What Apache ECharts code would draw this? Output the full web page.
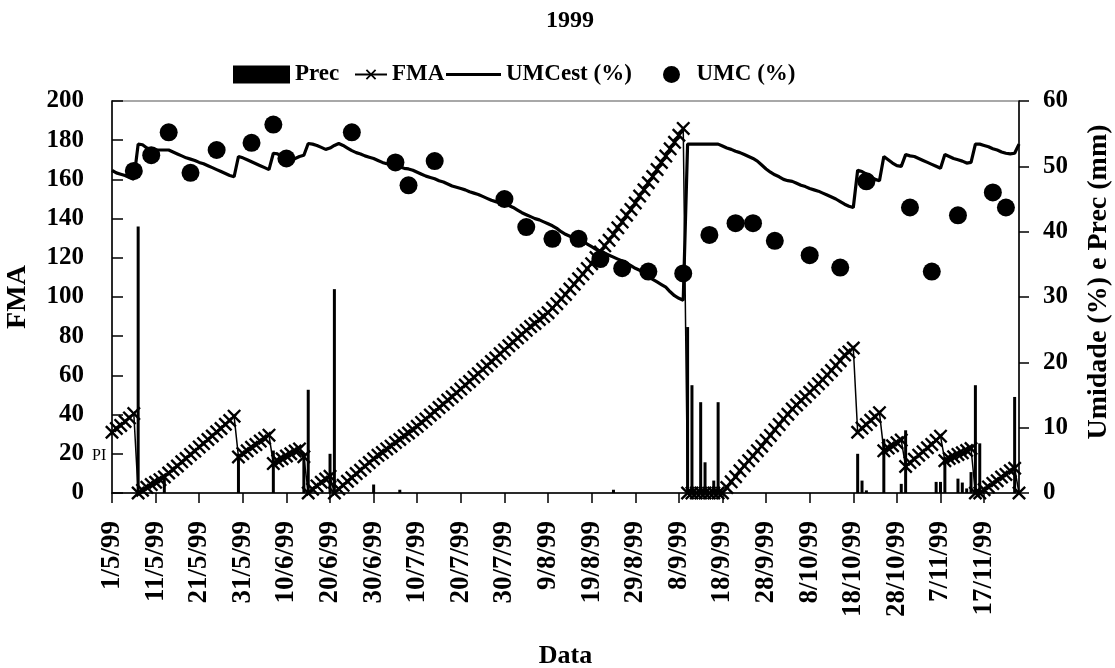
<!DOCTYPE html>
<html>
<head>
<meta charset="utf-8">
<title>1999 - FMA, UMC e precipitação</title>
<script src="https://cdn.jsdelivr.net/npm/echarts@6/dist/echarts.min.js"></script>
<style>
  html, body { margin: 0; padding: 0; background: #fff; }
  #chart { width: 1115px; height: 668px; }
</style>
</head>
<body>
<div id="chart"></div>
<script>
// Daily categories, 1/5/99 to 25/11/99 (month, number of days shown)
const monthSpans = [[5, 31], [6, 30], [7, 31], [8, 31], [9, 30], [10, 31], [11, 25]];
const dates = [];
monthSpans.forEach(([m, n]) => { for (let d = 1; d <= n; d++) dates.push(d + '/' + m + '/99'); });

// FMA index, one value per day (left axis)
const fmaValues = [
  31.0, 32.9, 34.5, 36.5, 38.3, 40.5, 0, 1.4, 2.9, 4.3,
  5.5, 6.8, 8.2, 10.2, 12.0, 13.8, 15.9, 17.6, 19.7, 21.4,
  23.5, 25.2, 27.3, 29.1, 31.2, 32.9, 35.1, 37.0, 39.2, 18.4,
  20.1, 21.5, 23.3, 24.7, 26.5, 27.9, 29.5, 15.0, 16.4, 17.5,
  18.9, 20.0, 21.4, 22.5, 18.5, 0, 1.9, 3.6, 5.5, 7.1,
  8.5, 0, 2.1, 3.9, 6.0, 7.8, 9.9, 11.6, 13.7, 15.5,
  17.5, 19.2, 20.6, 22.5, 23.9, 25.8, 27.3, 29.2, 30.6, 32.4,
  34.0, 36.0, 37.7, 39.8, 41.5, 43.6, 45.3, 47.4, 49.1, 51.2,
  53.0, 55.1, 56.9, 59.1, 60.9, 63.1, 64.9, 67.1, 68.9, 71.1,
  73.0, 75.1, 76.9, 79.1, 80.9, 83.0, 84.9, 86.5, 88.5, 90.1,
  92.0, 94.4, 96.6, 99.1, 101.3, 104.1, 106.5, 109.3, 111.7, 114.5,
  117.0, 120.1, 122.9, 126.1, 128.9, 132.0, 135.3, 138.3, 141.7, 144.7,
  148.0, 151.5, 154.7, 158.3, 161.5, 165.0, 168.6, 171.9, 175.6, 178.9,
  182.5, 186.0, 0, 0, 0, 0, 0, 0, 0, 0,
  0, 2.8, 5.7, 8.3, 11.3, 13.9, 16.5, 18.9, 21.6, 23.9,
  26.9, 29.4, 32.3, 34.9, 37.8, 40.2, 42.9, 44.9, 47.2, 49.1,
  51.4, 53.4, 55.8, 57.8, 60.3, 62.5, 65.1, 67.5, 70.4, 72.0,
  74.0, 31.0, 33.1, 34.9, 37.1, 38.9, 41.0, 21.5, 22.9, 24.1,
  25.7, 27.0, 13.5, 15.5, 17.2, 19.3, 21.0, 23.1, 24.8, 26.9,
  29.0, 16.5, 17.6, 18.5, 19.7, 20.5, 21.7, 22.7, 0, 0,
  1.7, 3.1, 4.9, 6.3, 8.1, 9.5, 11.3, 12.6, 0
];

// Estimated moisture content UMCest (%), one value per day (right axis)
const umcEstValues = [
  49.4, 49.0, 48.8, 48.6, 48.3, 48.0, 53.4, 53.3, 52.8, 52.5,
  52.5, 52.5, 52.5, 52.5, 52.2, 51.9, 51.6, 51.3, 51.1, 50.9,
  50.6, 50.4, 50.1, 49.8, 49.5, 49.2, 48.9, 48.6, 48.4, 51.5,
  51.3, 51.0, 50.7, 50.4, 50.1, 49.8, 49.5, 52.0, 51.9, 51.4,
  51.0, 50.7, 51.2, 51.5, 51.7, 53.5, 53.4, 53.2, 52.9, 52.6,
  52.8, 53.2, 53.5, 53.2, 52.8, 52.4, 52.1, 51.9, 51.6, 51.4,
  51.2, 50.9, 50.6, 50.4, 50.3, 50.1, 49.9, 49.7, 49.6, 49.4,
  49.1, 48.8, 48.5, 48.3, 48.1, 47.8, 47.6, 47.3, 47.0, 46.8,
  46.6, 46.4, 46.1, 45.9, 45.7, 45.4, 45.1, 44.8, 44.6, 44.4,
  44.2, 44.0, 43.7, 43.3, 42.9, 42.6, 42.3, 42.0, 41.8, 41.5,
  41.2, 40.9, 40.5, 40.0, 39.6, 39.3, 39.0, 38.7, 38.4, 38.1,
  37.7, 37.3, 37.0, 36.7, 36.4, 36.1, 35.8, 35.5, 35.2, 34.8,
  34.4, 34.1, 33.6, 33.1, 32.7, 32.3, 31.9, 31.5, 30.8, 30.2,
  29.8, 29.5, 53.4, 53.4, 53.4, 53.4, 53.4, 53.4, 53.4, 53.4,
  53.1, 52.8, 52.6, 52.3, 52.1, 51.8, 51.5, 51.2, 50.8, 50.2,
  49.6, 49.1, 48.7, 48.4, 48.0, 47.8, 47.7, 47.4, 47.1, 46.9,
  46.6, 46.4, 46.2, 45.9, 45.6, 45.3, 45.0, 44.6, 44.2, 43.9,
  43.7, 49.4, 49.2, 48.8, 48.4, 48.0, 47.8, 51.5, 51.0, 50.5,
  50.1, 50.0, 51.8, 51.6, 51.5, 51.2, 50.9, 50.6, 50.3, 50.0,
  49.7, 51.8, 51.5, 51.2, 51.0, 50.8, 50.5, 50.6, 53.4, 53.4,
  53.2, 53.0, 52.7, 52.5, 52.2, 52.0, 51.9, 52.0, 53.4
];

// Measured moisture content UMC (%)
const umcDates = [
  '6/5/99', '10/5/99', '14/5/99', '19/5/99', '25/5/99', '2/6/99', '7/6/99', '10/6/99',
  '25/6/99', '5/7/99', '8/7/99', '14/7/99', '30/7/99', '4/8/99', '10/8/99', '16/8/99',
  '21/8/99', '26/8/99', '1/9/99', '9/9/99', '15/9/99', '21/9/99', '25/9/99', '30/9/99',
  '8/10/99', '15/10/99', '21/10/99', '31/10/99', '5/11/99', '11/11/99', '19/11/99', '22/11/99'
];
const umcValues = [
  49.3, 51.7, 55.2, 49.0, 52.5, 53.6, 56.4, 51.2,
  55.2, 50.6, 47.1, 50.8, 45.0, 40.7, 38.9, 38.9,
  35.8, 34.4, 33.9, 33.6, 39.5, 41.3, 41.3, 38.6,
  36.4, 34.5, 47.7, 43.7, 33.9, 42.5, 46.0, 43.7
];

// Rainfall Prec (mm), days with rain only
const precDates = [
  '7/5/99', '13/5/99', '30/5/99', '7/6/99', '14/6/99', '15/6/99', '20/6/99', '21/6/99',
  '30/6/99', '6/7/99', '24/8/99', '10/9/99', '11/9/99', '13/9/99', '14/9/99', '16/9/99',
  '17/9/99', '19/10/99', '20/10/99', '21/10/99', '25/10/99', '29/10/99', '30/10/99', '6/11/99',
  '7/11/99', '8/11/99', '11/11/99', '12/11/99', '13/11/99', '14/11/99', '15/11/99', '16/11/99',
  '24/11/99'
];
const precMm = [
  40.8, 2.7, 6.0, 6.5, 6.0, 15.8, 6.0, 31.2,
  1.3, 0.5, 0.5, 25.4, 16.5, 13.9, 4.7, 1.9,
  13.9, 6.0, 1.9, 0.4, 8.3, 1.4, 9.6, 1.7,
  1.7, 5.5, 2.2, 1.6, 0.7, 3.2, 16.5, 7.6,
  14.7
];

const leftTicks = { min: 0, max: 200, step: 20 };
const rightTicks = { min: 0, max: 60, step: 10 };

const precByDate = {};
precDates.forEach((d, i) => { precByDate[d] = precMm[i]; });

const SERIF = '"Liberation Serif", "Times New Roman", serif';
const INK = '#000';
// "x" marker outline used for the FMA points
const CROSS = 'path://M0,1.2L1.2,0L5,3.8L8.8,0L10,1.2L6.2,5L10,8.8L8.8,10L5,6.2L1.2,10L0,8.8L3.8,5Z';

const boldText = (size) => ({ fontFamily: SERIF, fontWeight: 'bold', fontSize: size, color: INK });

const legendBase = {
  top: 58,
  orient: 'horizontal',
  textStyle: boldText(23),
  itemGap: 0,
  selectedMode: false
};

const chart = echarts.init(document.getElementById('chart'), null, { renderer: 'canvas' });

chart.setOption({
  animation: false,
  backgroundColor: '#fff',
  title: {
    text: '1999',
    left: 541,
    top: 4,
    textStyle: boldText(24)
  },
  legend: [
    Object.assign({}, legendBase, { data: ['Prec'], left: 228, itemWidth: 57, itemHeight: 18, icon: 'rect' }),
    Object.assign({}, legendBase, { data: ['FMA'], left: 349, itemWidth: 32, itemHeight: 13 }),
    Object.assign({}, legendBase, { data: ['UMCest (%)'], left: 441, itemWidth: 55, itemHeight: 3, icon: 'rect' }),
    Object.assign({}, legendBase, { data: ['UMC (%)'], left: 658, itemWidth: 40, itemHeight: 17, icon: 'circle' })
  ],
  grid: {
    left: 112,
    right: 96,
    top: 101,
    bottom: 175,
    outerBoundsMode: 'none',
    containLabel: false,
    show: true,
    borderColor: '#8c8c8c',
    borderWidth: 1.5,
    backgroundColor: 'transparent'
  },
  xAxis: {
    type: 'category',
    data: dates,
    boundaryGap: false,
    name: 'Data',
    nameLocation: 'middle',
    nameGap: 150,
    nameTextStyle: boldText(26),
    axisLine: { show: true, lineStyle: { color: INK, width: 1.5 } },
    axisTick: { show: true, interval: 9, length: 10, lineStyle: { color: INK, width: 1.5 } },
    axisLabel: Object.assign({ interval: 9, rotate: 90, margin: 28 }, boldText(27)),
    splitLine: { show: false }
  },
  yAxis: [
    {
      type: 'value',
      position: 'left',
      min: leftTicks.min,
      max: leftTicks.max,
      interval: leftTicks.step,
      name: 'FMA',
      nameLocation: 'middle',
      nameRotate: 90,
      nameGap: 80,
      nameTextStyle: boldText(28),
      axisLine: { show: true, lineStyle: { color: INK, width: 1.5 } },
      axisTick: { show: true, inside: true, length: 11, lineStyle: { color: INK, width: 1.5 } },
      axisLabel: Object.assign({ margin: 28 }, boldText(25)),
      splitLine: { show: false }
    },
    {
      type: 'value',
      position: 'right',
      min: rightTicks.min,
      max: rightTicks.max,
      interval: rightTicks.step,
      axisLine: { show: true, lineStyle: { color: INK, width: 1.5 } },
      axisTick: { show: true, inside: false, length: 10, lineStyle: { color: INK, width: 1.5 } },
      axisLabel: Object.assign({ margin: 24 }, boldText(25)),
      splitLine: { show: false }
    }
  ],
  graphic: [
    {
      type: 'text',
      x: 1099,
      y: 282,
      rotation: Math.PI / 2,
      style: {
        text: 'Umidade (%) e Prec (mm)',
        font: 'bold 28px ' + SERIF,
        fill: INK,
        align: 'center',
        verticalAlign: 'middle'
      }
    },
    {
      type: 'text',
      x: 92,
      y: 456,
      style: {
        text: 'PI',
        font: '16px ' + SERIF,
        fill: INK,
        align: 'left',
        verticalAlign: 'middle'
      }
    }
  ],
  series: [
    {
      name: 'Prec',
      type: 'bar',
      yAxisIndex: 1,
      barWidth: 3,
      data: dates.map((d) => (d in precByDate ? precByDate[d] : null)),
      itemStyle: { color: INK },
      z: 2
    },
    {
      name: 'FMA',
      type: 'line',
      yAxisIndex: 0,
      data: fmaValues,
      symbol: CROSS,
      symbolSize: 14,
      showSymbol: true,
      showAllSymbol: true,
      lineStyle: { color: INK, width: 1.5 },
      itemStyle: { color: INK },
      z: 3
    },
    {
      name: 'UMCest (%)',
      type: 'line',
      yAxisIndex: 1,
      data: umcEstValues,
      symbol: 'none',
      lineStyle: { color: INK, width: 3.2 },
      itemStyle: { color: INK },
      z: 4
    },
    {
      name: 'UMC (%)',
      type: 'scatter',
      yAxisIndex: 1,
      data: umcDates.map((d, i) => [d, umcValues[i]]),
      symbol: 'circle',
      symbolSize: 18,
      itemStyle: { color: INK, opacity: 1 },
      z: 5
    }
  ]
});
</script>
</body>
</html>
